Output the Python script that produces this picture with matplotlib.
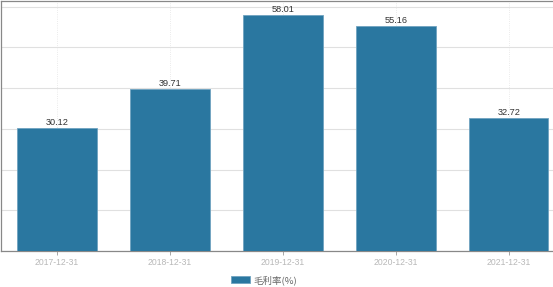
import matplotlib
matplotlib.use("Agg")
import matplotlib.pyplot as plt

# data
dates = ["2017-12-31", "2018-12-31", "2019-12-31", "2020-12-31", "2021-12-31"]
gross_margin = [30.12, 39.71, 58.01, 55.16, 32.72]
series_name = "毛利率(%)"

BAR_COLOR = "#2a77a0"

plt.rcParams["font.family"] = ["Liberation Sans", "DejaVu Sans"]

fig = plt.figure(figsize=(5.53, 2.87), dpi=100)
ax = fig.add_axes([0.001, 0.1254, 0.999, 0.871])

x = list(range(len(dates)))
bars = ax.bar(x, gross_margin, width=0.7, color=BAR_COLOR,
              edgecolor="#6fa3c0", linewidth=0.6, label=series_name, zorder=3)

for xi, v in zip(x, gross_margin):
    ax.annotate(f"{v:.2f}", (xi, v), xytext=(0, 0.8), textcoords="offset points",
                ha="center", va="bottom", fontsize=6.6, color="#333333")

ax.set_xlim(-0.5, 4.39)
ax.set_ylim(0, 61.4)
ax.set_yticks(range(0, 61, 10))
ax.set_yticklabels([])
ax.tick_params(axis="y", length=0)
ax.set_xticks(x)
ax.set_xticklabels(dates)
ax.tick_params(axis="x", length=3, width=0.6, color="#999999",
               labelsize=6.2, labelcolor="#b8b8b8", pad=2)

ax.grid(axis="y", color="#e0e0e0", linewidth=0.8, zorder=0)
ax.grid(axis="x", color="#e4e4e4", linewidth=0.6, linestyle=":", zorder=0)

for side in ["left", "bottom", "top"]:
    ax.spines[side].set_color("#888888")
    ax.spines[side].set_linewidth(0.9)
ax.spines["right"].set_visible(False)

leg = ax.legend(loc="center", bbox_to_anchor=(0.477, 0.025),
                bbox_transform=fig.transFigure, frameon=False,
                handlelength=2.1, handleheight=0.7, handletextpad=0.3,
                prop={"family": ["Noto Sans CJK SC", "DejaVu Sans"], "size": 6.8})
for t in leg.get_texts():
    t.set_color("#666666")

fig.savefig("out.png", dpi=100)
